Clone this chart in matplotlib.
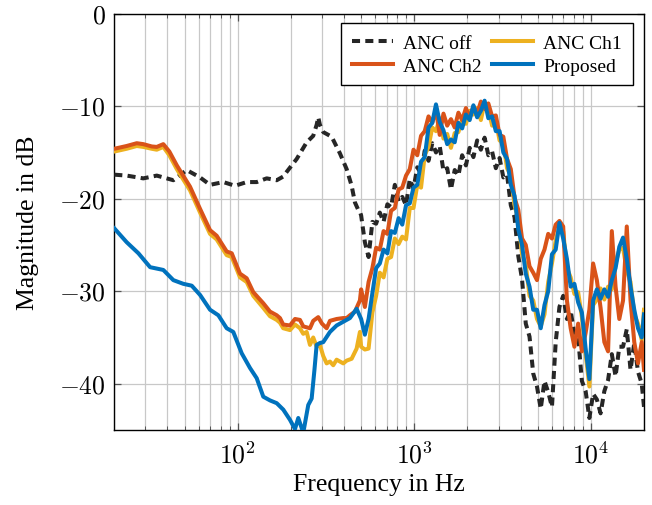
import numpy as np
import matplotlib
matplotlib.use("Agg")
import matplotlib.pyplot as plt
from matplotlib.ticker import FixedLocator, FuncFormatter, LogLocator, NullFormatter

plt.rcParams['font.family'] = ['Liberation Serif', 'DejaVu Serif']
plt.rcParams['mathtext.fontset'] = 'cm'

# ---------------- data ----------------
# low-frequency part (below 500 Hz), each series on its own frequencies
off_f_lo = [20, 23.5, 29.2, 34.8, 43.2, 51.4, 61.2, 69.7, 82.9, 96.5, 112.4, 128.1, 145.9,
            166.3, 181.2, 189.4, 215.8, 245.8, 267.7, 280, 285.8, 292, 305.1, 318.9, 340.4,
            379.3, 414, 441.8, 461.2, 481.4, 492.2]
off_db_lo = [-17.4, -17.5, -17.8, -17.5, -18.0, -16.9, -17.7, -18.5, -18.2, -18.6, -18.2, -18.2, -17.8,
             -18.0, -17.6, -17.1, -15.7, -13.9, -13.2, -12.0, -11.2, -12.0, -12.8, -13.0, -13.3,
             -15.1, -16.8, -18.6, -20.4, -21.2, -21.4]

ch2_f_lo = [20, 23.5, 26.8, 29.2, 32.6, 34.8, 37.9, 41, 45.2, 53.7, 61.2, 69.7, 76.0, 86.6, 92.5,
            103, 112.4, 122.5, 139.6, 152.3, 166.3, 173.5, 181, 197.7, 211, 225.2, 235, 256.6,
            267.7, 285.8, 300, 318.9, 333, 363.3, 396, 414, 432, 461.2, 492]
ch2_db_lo = [-14.6, -14.3, -14.0, -14.1, -14.35, -14.4, -14.1, -14.9, -16.4, -18.7, -21.1, -23.4, -24.0, -25.7, -25.9,
             -28.1, -28.6, -30.1, -31.3, -32.2, -32.6, -32.9, -33.6, -33.7, -33.0, -33.1, -33.8, -34.0,
             -33.2, -32.8, -33.5, -34.0, -33.2, -33.0, -32.9, -32.9, -32.6, -32.2, -31.0]

ch1_f_lo = [20, 23.5, 26.8, 29.2, 32.6, 34.8, 37.9, 41, 45.2, 53.7, 61.2, 69.7, 76.0, 86.6, 92.5,
            103, 112.4, 122.5, 139.6, 152.3, 166.3, 173.5, 181, 197.7, 211, 225.2, 235, 245.8, 256.6,
            267.7, 279.9, 292, 305, 318.9, 333, 347.5, 363.3, 396, 414, 441.8, 471.5, 492.2]
ch1_db_lo = [-14.9, -14.6, -14.3, -14.4, -14.6, -14.7, -14.4, -15.3, -16.8, -19.1, -21.5, -23.8, -24.4, -26.1, -26.3,
             -28.5, -29.0, -30.5, -31.8, -32.7, -33.1, -33.4, -34.0, -34.2, -33.6, -34.0, -34.6, -34.4, -35.8,
             -35.0, -36.0, -35.8, -37.0, -37.8, -37.6, -38.0, -37.4, -37.8, -37.5, -37.3, -36.2, -34.4]

prop_f_lo = [20, 23.5, 27.4, 31.9, 37.9, 43.2, 49.2, 54.9, 61.2, 69.7, 77.7, 86.6, 94.4, 105.3,
             117.4, 128.1, 139.6, 152.3, 166.3, 181.2, 197.7, 211, 220.3, 235.1, 250.9, 262.3,
             272, 279.9, 292, 305.1, 333, 363.3, 396, 432.1, 471.5]
prop_db_lo = [-23.2, -24.7, -25.9, -27.4, -27.7, -28.8, -29.2, -29.4, -30.4, -32.0, -32.6, -34.0, -34.4, -36.7,
              -38.3, -39.4, -41.4, -41.8, -42.1, -42.8, -43.9, -44.9, -43.7, -45.3, -42.3, -41.6,
              -38.5, -35.8, -35.6, -35.5, -34.4, -33.7, -33.3, -32.9, -31.9]

# high-frequency part (500 Hz .. 20 kHz), shared frequency bins
f_hi = [500, 525, 551, 579, 608, 638, 670, 704, 739, 776, 815, 855, 898, 943, 990, 1040,
        1092, 1146, 1204, 1264, 1327, 1393, 1463, 1536, 1613, 1694, 1778, 1867, 1961, 2059,
        2162, 2270, 2383, 2502, 2627, 2759, 2897, 3042, 3194, 3353, 3521, 3697, 3882, 4076,
        4280, 4494, 4718, 4954, 5202, 5462, 5735, 6022, 6323, 6639, 6971, 7320, 7686, 8070,
        8473, 8897, 9342, 9809, 10300, 10815, 11355, 11923, 12519, 13145, 13803, 14493,
        15217, 15978, 16777, 17616, 18497, 19422, 20000]

off_db_hi = [-21.8, -24.7, -26.3, -22.5, -22.7, -21.5, -22.5, -20.6, -20.9, -18.5, -20.3, -19.8,
             -20.7, -17.9, -18.9, -16.6, -17.3, -14.8, -15.9, -14.0, -15.0, -14.3, -17.0, -16.7,
             -19.0, -16.9, -17.5, -15.3, -16.4, -14.5, -15.5, -13.7, -14.7, -13.4, -15.3, -14.9,
             -16.7, -15.6, -17.7, -17.4, -20.7, -22.0, -26.2, -28.7, -33.5, -34.9, -38.9, -40.3,
             -42.7, -39.7, -40.9, -42.5, -35.5, -31.7, -30.5, -33.0, -32.1, -34.7, -35.0, -39.7,
             -40.8, -43.7, -41.1, -41.7, -43.2, -40.8, -39.6, -36.8, -39.2, -36.0, -36.0, -34.1,
             -38.5, -35.6, -38.7, -40.0, -42.5]

ch2_db_hi = [-29.8, -31.7, -29.0, -27.5, -25.3, -25.5, -23.5, -23.8, -21.3, -21.0, -19.0, -18.8,
             -17.5, -16.8, -14.7, -15.3, -13.2, -12.7, -11.1, -11.8, -10.4, -13.1, -10.8, -12.1,
             -11.4, -12.3, -10.7, -11.5, -10.2, -11.3, -10.0, -10.8, -9.5, -10.3, -9.7, -11.1,
             -11.0, -13.1, -13.3, -15.7, -16.8, -19.9, -21.2, -24.3, -25.0, -27.3, -28.0, -28.8,
             -26.5, -25.5, -23.8, -24.3, -22.8, -22.4, -23.0, -31.0, -34.0, -36.0, -33.5, -36.5,
             -34.5, -32.0, -27.0, -28.8, -31.8, -35.5, -36.5, -23.5, -29.5, -33.0, -31.0, -23.0,
             -31.0, -35.5, -37.8, -35.5, -38.5]

ch1_db_hi = [-36.0, -36.3, -36.2, -32.3, -30.5, -28.0, -28.5, -26.5, -26.3, -24.3, -24.9, -24.1,
             -24.4, -21.0, -21.0, -18.5, -18.8, -15.3, -14.4, -12.3, -12.7, -11.3, -13.5, -13.0,
             -14.5, -12.9, -12.8, -11.4, -11.9, -10.5, -10.9, -10.2, -11.5, -9.6, -10.3, -12.1,
             -11.7, -13.7, -14.0, -16.7, -17.5, -20.7, -22.3, -26.0, -27.1, -30.5, -31.0, -33.0,
             -33.8, -32.5, -29.0, -27.0, -24.5, -23.0, -23.5, -27.5, -28.5, -30.3, -30.1, -32.8,
             -36.8, -40.3, -31.5, -30.9, -29.7, -30.9, -29.5, -29.8, -27.0, -25.5, -25.3, -27.8,
             -29.0, -32.5, -33.5, -35.3, -32.0]

prop_db_hi = [-33.0, -34.7, -33.0, -30.2, -27.5, -27.0, -25.5, -25.9, -23.5, -23.7, -22.1, -22.8,
              -20.7, -20.5, -18.8, -18.5, -16.0, -15.5, -12.3, -11.8, -9.8, -11.7, -12.6, -14.1,
              -13.6, -13.9, -11.8, -12.4, -10.9, -11.5, -9.9, -11.2, -10.5, -9.4, -11.3, -11.1,
              -12.7, -12.7, -15.0, -15.7, -18.5, -19.7, -23.3, -25.0, -28.1, -29.5, -32.0, -32.0,
              -34.0, -31.5, -30.0, -26.0, -25.5, -22.6, -24.3, -26.5, -29.5, -29.2, -31.2, -32.3,
              -36.2, -39.5, -31.0, -29.8, -30.8, -29.8, -30.6, -28.8, -27.5, -25.2, -24.2, -26.5,
              -29.5, -32.0, -34.0, -35.0, -32.5]

y_ticks = [-40, -30, -20, -10, 0]
x_ticks = [100, 1000, 10000]

# ---------------- figure ----------------
W, H = 652, 506
fig = plt.figure(figsize=(W / 100, H / 100), dpi=100)
ax = fig.add_axes([114.3 / W, 1 - 431 / H, (644 - 114.3) / W, (431 - 14.7) / H])

lw = 2.9
h_off, = ax.plot(off_f_lo + f_hi, off_db_lo + off_db_hi, color='#262626', lw=lw,
                 linestyle=(0, (2.0, 1.3)), dash_capstyle='butt', label='ANC off', zorder=3)
h_ch1, = ax.plot(ch1_f_lo + f_hi, ch1_db_lo + ch1_db_hi, color='#EDB120', lw=lw,
                 label='ANC Ch1', zorder=4)
h_ch2, = ax.plot(ch2_f_lo + f_hi, ch2_db_lo + ch2_db_hi, color='#D95319', lw=lw,
                 label='ANC Ch2', zorder=5)
h_pr, = ax.plot(prop_f_lo + f_hi, prop_db_lo + prop_db_hi, color='#0072BD', lw=lw,
                label='Proposed', zorder=6)

ax.set_xscale('log')
ax.set_xlim(20, 20000)
ax.set_ylim(-45, 0)

ax.xaxis.set_major_locator(FixedLocator(x_ticks))
ax.xaxis.set_minor_locator(LogLocator(base=10, subs=np.arange(2, 10)))
ax.xaxis.set_minor_formatter(NullFormatter())
ax.xaxis.set_major_formatter(FuncFormatter(lambda v, p: r'$10^{%d}$' % round(np.log10(v))))
ax.yaxis.set_major_locator(FixedLocator(y_ticks))
ax.yaxis.set_major_formatter(FuncFormatter(lambda v, p: r'$%d$' % v))

ax.grid(True, which='major', color='#c8c8c8', lw=0.9)
ax.grid(True, which='minor', axis='x', color='#c8c8c8', lw=0.9)
ax.set_axisbelow(True)

ax.tick_params(which='both', direction='in', top=True, right=True, colors='#555555',
               labelcolor='black', labelsize=18.5)
ax.tick_params(which='major', length=5, width=0.9, pad=6)
ax.tick_params(which='minor', length=3, width=0.7)
ax.tick_params(axis='x', which='major', pad=8)
for s in ax.spines.values():
    s.set_color('black')
    s.set_linewidth(1.0)

ax.set_xlabel('Frequency in Hz', fontsize=18.5, labelpad=4)
ax.set_ylabel('Magnitude in dB', fontsize=18.5, labelpad=14.5)

leg = ax.legend([h_off, h_ch2, h_ch1, h_pr], ['ANC off', 'ANC Ch2', 'ANC Ch1', 'Proposed'],
                ncol=2, loc='upper right', bbox_to_anchor=(0.9787, 0.977), borderaxespad=0,
                fontsize=14, handlelength=2.1, handletextpad=0.55, columnspacing=0.5,
                labelspacing=0.28, borderpad=0.55, fancybox=False, framealpha=1,
                edgecolor='black')
leg.get_frame().set_linewidth(1.0)
leg.set_zorder(10)

fig.savefig('out.png', dpi=100)
